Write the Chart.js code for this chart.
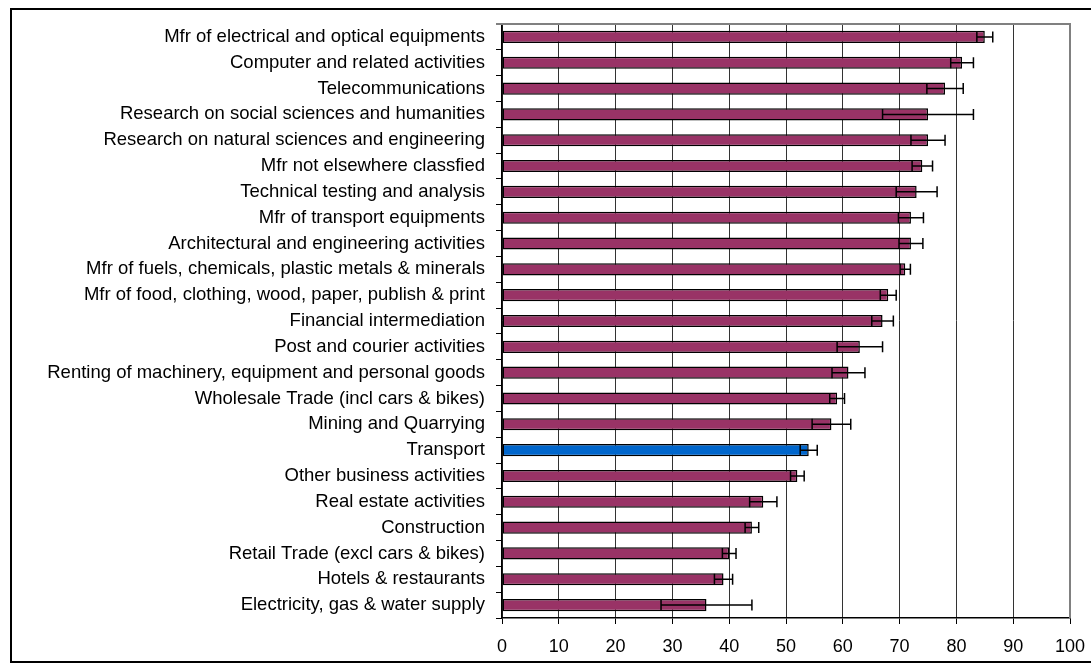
<!DOCTYPE html>
<html>
<head>
<meta charset="utf-8">
<script src="https://cdn.jsdelivr.net/npm/chart.js@4"></script>
<style>
  html, body { margin: 0; padding: 0; background: #fff; }
  #frame { position: absolute; left: 10px; top: 8px; width: 1100px; height: 655px; border: 2px solid #000; box-sizing: border-box; }
  #wrap { position: absolute; left: 0; top: 0; width: 1091px; height: 672px; }
</style>
</head>
<body>
<div id="frame"></div>
<div id="wrap"><canvas id="cv-sectors"></canvas></div>
<script>
const sectors = [
    'Mfr of electrical and optical equipments',
    'Computer and related activities',
    'Telecommunications',
    'Research on social sciences and humanities',
    'Research on natural sciences and engineering',
    'Mfr not elsewhere classfied',
    'Technical testing and analysis',
    'Mfr of transport equipments',
    'Architectural and engineering activities',
    'Mfr of fuels, chemicals, plastic metals & minerals',
    'Mfr of food, clothing, wood, paper, publish & print',
    'Financial intermediation',
    'Post and courier activities',
    'Renting of machinery, equipment and personal goods',
    'Wholesale Trade (incl cars & bikes)',
    'Mining and Quarrying',
    'Transport',
    'Other business activities',
    'Real estate activities',
    'Construction',
    'Retail Trade (excl cars & bikes)',
    'Hotels & restaurants',
    'Electricity, gas & water supply'
];
const scores = [85, 81, 78, 75, 75, 74, 73, 72, 72, 71, 68, 67, 63, 61, 59, 58, 54, 52, 46, 44, 40, 39, 36];
const errors = [1.4, 2, 3.2, 8, 3, 1.8, 3.6, 2.2, 2.1, 0.9, 1.4, 1.9, 4, 2.9, 1.3, 3.4, 1.5, 1.2, 2.4, 1.2, 1.2, 1.6, 8];
const highlight = 'Transport';
const xTicks = [0, 10, 20, 30, 40, 50, 60, 70, 80, 90, 100];

const errorBars = {
    id: 'errorBars',
    afterDatasetsDraw(chart) {
        const ctx = chart.ctx;
        const xs = chart.scales.x;
        const meta = chart.getDatasetMeta(0);
        ctx.save();
        ctx.strokeStyle = '#000';
        ctx.lineWidth = 1.5;
        meta.data.forEach((bar, i) => {
            const y = bar.y;
            const x1 = xs.getPixelForValue(scores[i] - errors[i]);
            const x2 = xs.getPixelForValue(scores[i] + errors[i]);
            const h = 5.5;
            ctx.beginPath();
            ctx.moveTo(x1, y); ctx.lineTo(x2, y);
            ctx.moveTo(x1, y - h); ctx.lineTo(x1, y + h);
            ctx.moveTo(x2, y - h); ctx.lineTo(x2, y + h);
            ctx.stroke();
        });
        // plot area frame top/right
        const a = chart.chartArea;
        ctx.strokeStyle = '#808080';
        ctx.lineWidth = 2;
        ctx.beginPath();
        ctx.moveTo(a.left - 6, a.top); ctx.lineTo(a.right, a.top); ctx.lineTo(a.right, a.bottom);
        ctx.stroke();
        ctx.restore();
    }
};

Chart.defaults.font.family = '"Liberation Sans", Arial, sans-serif';
Chart.defaults.color = '#000';

const sectorChart = new Chart(document.getElementById('cv-sectors'), {
    type: 'bar',
    data: {
        labels: sectors,
        datasets: [{
            data: scores,
            backgroundColor: sectors.map(s => s === highlight ? '#0066CC' : '#993366'),
            borderColor: '#000',
            borderWidth: 1.5,
            borderSkipped: false,
            barPercentage: 0.47,
            categoryPercentage: 1
        }]
    },
    options: {
        indexAxis: 'y',
        responsive: true,
        maintainAspectRatio: false,
        animation: false,
        layout: { padding: { top: 24, right: 21, left: 0, bottom: 0 } },
        plugins: { legend: { display: false }, tooltip: { enabled: false } },
        scales: {
            x: {
                min: 0,
                max: 100,
                afterBuildTicks: axis => { axis.ticks = xTicks.map(v => ({ value: v })); },
                afterFit: axis => { axis.height = 54; axis.paddingLeft = 0; axis.paddingRight = 0; },
                grid: {
                    color: ctx => ctx.tick && ctx.tick.value === 100 ? '#808080' : '#333',
                    lineWidth: 1,
                    tickLength: 6,
                    tickColor: '#000'
                },
                border: { color: '#000', width: 1.5 },
                ticks: { font: { size: 18 }, padding: 12, maxRotation: 0 }
            },
            y: {
                afterFit: axis => { axis.width = 502; },
                grid: { offset: true, drawOnChartArea: false, tickLength: 6, tickColor: '#000' },
                border: { color: '#000', width: 1.5 },
                ticks: { font: { size: 18.5 }, padding: 11, autoSkip: false }
            }
        }
    },
    plugins: [errorBars]
});
</script>
</body>
</html>
